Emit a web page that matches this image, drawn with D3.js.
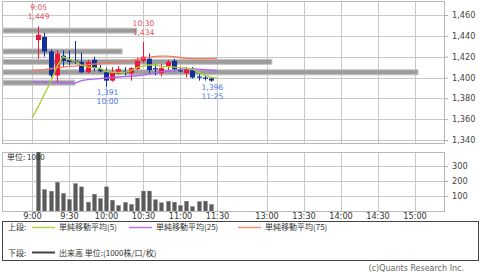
<!DOCTYPE html>
<html><head><meta charset="utf-8">
<script src="https://cdn.jsdelivr.net/npm/d3@7"></script>
<style>body{margin:0;background:#fff} svg{display:block}</style>
</head><body><svg id="c" width="480" height="272"></svg>
<script>
// ---------- data ----------
const candleTimes = ["9:05","9:10","9:15","9:20","9:25","9:30","9:35","9:40","9:45","9:50","9:55",
  "10:00","10:05","10:10","10:15","10:20","10:25","10:30","10:35","10:40","10:45","10:50","10:55",
  "11:00","11:05","11:10","11:15","11:20","11:25"];
const openP  = [1436,1439,1425,1402,1421,1417,1416,1415,1405,1417,1408,1405,1397,1404,1406,1404,1408,1416,1418,1409,1404,1411,1416,1407,1404,1407,1401,1400,1399];
const highP  = [1449,1443,1427,1426,1426,1426,1435,1424,1417,1420,1412,1409,1410,1411,1410,1410,1419,1434,1423,1413,1413,1417,1418,1410,1410,1410,1403,1402,1400];
const lowP   = [1418,1420,1400,1395,1410,1412,1413,1404,1404,1406,1405,1391,1396,1403,1402,1397,1407,1414,1404,1402,1401,1407,1406,1405,1400,1399,1397,1397,1396];
const closeP = [1441,1425,1402,1423,1416,1415,1415,1405,1415,1409,1406,1397,1405,1408,1405,1409,1416,1420,1407,1408,1409,1415,1408,1406,1408,1400,1400,1400,1397];
const volume = [410,143,132,192,117,77,183,161,59,112,83,161,72,37,57,44,86,133,133,75,55,65,59,37,65,30,63,66,44];

const maTimes = ["9:00","9:05","9:10","9:15","9:20","9:25","9:30","9:35","9:40","9:45","9:50","9:55",
  "10:00","10:05","10:10","10:15","10:20","10:25","10:30","10:35","10:40","10:45","10:50","10:55",
  "11:00","11:05","11:10","11:15","11:20","11:25","11:30"];
const ma5  = [1361,1372,1384,1395.5,1410,1420,1417.5,1415.6,1412,1410,1409.4,1409,1406,1405,1405,1405,1406.5,1409.4,1411,1412,1412,1410.4,1410.4,1410,1409.4,1409,1408,1405,1402,1400.3,1399.3];
const ma25 = [1396,1395.8,1395.6,1395.4,1395.2,1395,1394.8,1394.6,1397,1398,1398.4,1399,1399.5,1400,1400.5,1400.8,1401.2,1401.7,1402.2,1403.2,1404.6,1405.6,1406,1406.5,1408,1408.4,1408.4,1408,1407.5,1407,1406.5];
const ma75 = [1407,1407,1407.5,1408.4,1409.4,1410,1410.6,1411,1411.6,1412.2,1412.8,1413.2,1413.7,1414.2,1414.7,1415.5,1416.3,1417.3,1418.5,1419.5,1420.2,1420.5,1420.5,1420,1419.2,1418.5,1418.2,1418.2,1418.2,1418.2,1418.2];

const bandPrices = [1445,1425,1415,1405,1395];
const bandVolume = [397,353,797,1230,213];

const xTickLabels = ["9:00","9:30","10:00","10:30","11:00","11:30","13:00","13:30","14:00","14:30","15:00"];
const priceTicks = [1340,1360,1380,1400,1420,1440,1460];
const volTicks = [100,200,300];

const highMarks = [{t:"10:30", p:1434},{t:"9:05", p:1449}];
const lowMarks  = [{t:"10:00", p:1391},{t:"11:25", p:1396}];

// ---------- scales ----------
const toMin = t => { const [h,m] = t.split(":").map(Number); return h*60+m; };
const fmtN = d3.format(",");
const x = d3.scaleLinear().domain([540,690,780,900]).range([32,217,266.5,414.5]);
const y = d3.scaleLinear().domain([1340,1460]).range([140,15]);
const yv = d3.scaleLinear().domain([0,300]).range([211,166]);
const xb = d3.scaleLinear().domain([0,1230]).range([3,418]);

const P = {l:2, r:444, t:1, b:143};
const V = {t:152, b:211};
const FONT = "DejaVu Sans, sans-serif";
const CJK = "Noto Sans CJK JP, sans-serif";
const GRID = "#c8c8c8";
const UP = "#f0163a", DOWN = "#13309a";

const svg = d3.select("#c");
svg.append("rect").attr("width",480).attr("height",272).attr("fill","#fff");

const defs = svg.append("defs");
defs.append("clipPath").attr("id","cp").append("rect").attr("x",P.l).attr("y",P.t).attr("width",P.r-P.l).attr("height",P.b-P.t);
defs.append("clipPath").attr("id","cv").append("rect").attr("x",P.l).attr("y",V.t).attr("width",P.r-P.l).attr("height",V.b-V.t);

// ---------- upper panel grid ----------
const up = svg.append("g");
up.selectAll("line.h").data(priceTicks).join("line")
  .attr("x1",P.l).attr("x2",P.r).attr("y1",d=>Math.round(y(d))+0.5).attr("y2",d=>Math.round(y(d))+0.5)
  .attr("stroke",GRID);
up.selectAll("line.v").data(xTickLabels).join("line")
  .attr("x1",d=>Math.round(x(toMin(d)))+0.5).attr("x2",d=>Math.round(x(toMin(d)))+0.5)
  .attr("y1",P.t).attr("y2",P.b).attr("stroke",GRID);
up.append("rect").attr("x",P.l+0.5).attr("y",P.t+0.5).attr("width",P.r-P.l).attr("height",P.b-P.t)
  .attr("fill","none").attr("stroke","#b8b8b8");

// price-band volume bars
const pb = svg.append("g").attr("clip-path","url(#cp)");
pb.selectAll("rect").data(bandPrices).join("rect")
  .attr("x",xb(0)).attr("width",(d,i)=>xb(bandVolume[i])-xb(0))
  .attr("y",d=>y(d+2.4)).attr("height",d=>y(d-2.4)-y(d+2.4))
  .attr("fill","#9c9c9c").attr("stroke","#c4c4c4").attr("stroke-width",1);

// candles
const cg = svg.append("g").attr("clip-path","url(#cp)");
const idx = d3.range(candleTimes.length);
const col = i => closeP[i] > openP[i] ? UP : DOWN;
cg.selectAll("line").data(idx).join("line")
  .attr("x1",i=>Math.round(x(toMin(candleTimes[i])))+0.5).attr("x2",i=>Math.round(x(toMin(candleTimes[i])))+0.5)
  .attr("y1",i=>y(highP[i])).attr("y2",i=>y(lowP[i])).attr("stroke",col).attr("stroke-width",1);
cg.selectAll("rect").data(idx).join("rect")
  .attr("x",i=>Math.round(x(toMin(candleTimes[i])))-2).attr("width",5)
  .attr("y",i=>y(Math.max(openP[i],closeP[i])))
  .attr("height",i=>Math.max(1.2, y(Math.min(openP[i],closeP[i]))-y(Math.max(openP[i],closeP[i]))))
  .attr("fill",col);

// moving averages
const lineGen = arr => d3.line().x((d,i)=>x(toMin(maTimes[i]))).y(d=>y(d))(arr);
const mg = svg.append("g").attr("clip-path","url(#cp)").attr("fill","none").attr("stroke-width",1.3);
mg.append("path").attr("d",lineGen(ma75)).attr("stroke","#f37a5a");
mg.append("path").attr("d",lineGen(ma25)).attr("stroke","#b25ff2");
mg.append("path").attr("d",lineGen(ma5)).attr("stroke","#a6d02c");

// annotations
const ann = svg.append("g").attr("font-family",FONT).attr("font-size",7.6).attr("text-anchor","middle");
highMarks.forEach(m=>{
  const cx = x(toMin(m.t))+0.5, cy = y(m.p);
  ann.append("text").attr("x",cx).attr("y",cy-16.5).attr("fill","#e0505e").text(m.t);
  ann.append("text").attr("x",cx).attr("y",cy-7.5).attr("fill","#e0505e").text(fmtN(m.p));
});
lowMarks.forEach(m=>{
  const cx = x(toMin(m.t))+1.5, cy = y(m.p);
  ann.append("text").attr("x",cx).attr("y",cy+8.5).attr("fill","#4a78e6").text(fmtN(m.p));
  ann.append("text").attr("x",cx).attr("y",cy+17.5).attr("fill","#4a78e6").text(m.t);
});

// price axis
const ya = svg.append("g").attr("transform",`translate(${P.r},0)`)
  .call(d3.axisRight(y).tickValues(priceTicks).tickFormat(fmtN).tickSize(4).tickPadding(4));
ya.select(".domain").remove();
ya.selectAll("line").attr("stroke","#aaa");
ya.selectAll("text").attr("font-family",FONT).attr("font-size",8.2).attr("fill","#444");

// ---------- lower panel ----------
const lo = svg.append("g");
lo.selectAll("line.h").data(volTicks).join("line")
  .attr("x1",P.l).attr("x2",P.r).attr("y1",d=>Math.round(yv(d))+0.5).attr("y2",d=>Math.round(yv(d))+0.5).attr("stroke",GRID);
lo.selectAll("line.v").data(xTickLabels).join("line")
  .attr("x1",d=>Math.round(x(toMin(d)))+0.5).attr("x2",d=>Math.round(x(toMin(d)))+0.5)
  .attr("y1",V.t).attr("y2",V.b).attr("stroke",GRID);
lo.append("rect").attr("x",P.l+0.5).attr("y",V.t+0.5).attr("width",P.r-P.l).attr("height",V.b-V.t)
  .attr("fill","none").attr("stroke","#b8b8b8");

const vg = svg.append("g").attr("clip-path","url(#cv)");
vg.selectAll("rect").data(idx).join("rect")
  .attr("x",i=>Math.round(x(toMin(candleTimes[i])))-1.5).attr("width",4)
  .attr("y",i=>yv(volume[i])).attr("height",i=>yv(0)-yv(volume[i]))
  .attr("fill","#5a5a5a").attr("stroke","#888").attr("stroke-width",0.4);

svg.append("text").attr("x",7).attr("y",159.5).attr("font-family",CJK).attr("font-size",8)
  .attr("fill","#333").text("単位: 1000");

const va = svg.append("g").attr("transform",`translate(${P.r},0)`)
  .call(d3.axisRight(yv).tickValues(volTicks).tickSize(4).tickPadding(4));
va.select(".domain").remove();
va.selectAll("line").attr("stroke","#aaa");
va.selectAll("text").attr("font-family",FONT).attr("font-size",8.2).attr("fill","#444");

// x axis
const xa = svg.append("g").attr("transform",`translate(0,${V.b})`)
  .call(d3.axisBottom(x).tickValues(xTickLabels.map(toMin)).tickFormat((d,i)=>xTickLabels[i]).tickSize(0).tickPadding(2.5));
xa.select(".domain").remove();
xa.selectAll("text").attr("font-family",FONT).attr("font-size",8.2).attr("fill","#333");

// ---------- legend ----------
const lg = svg.append("g").attr("font-family",CJK).attr("font-size",8).attr("fill","#333");
lg.append("rect").attr("x",2.5).attr("y",221.5).attr("width",476).attr("height",39)
  .attr("fill","none").attr("stroke","#444");
const legItems = [
  {x:32, color:"#b2d64a", label:"単純移動平均(5)", w:1.5},
  {x:129, color:"#c070f0", label:"単純移動平均(25)", w:1.5},
  {x:238, color:"#f4907a", label:"単純移動平均(75)", w:1.5}
];
lg.append("text").attr("x",8).attr("y",230).text("上段:");
legItems.forEach(it=>{
  lg.append("line").attr("x1",it.x).attr("x2",it.x+23).attr("y1",227.5).attr("y2",227.5).attr("stroke",it.color).attr("stroke-width",it.w);
  lg.append("text").attr("x",it.x+27).attr("y",230).text(it.label);
});
lg.append("text").attr("x",8).attr("y",255.5).text("下段:");
lg.append("line").attr("x1",32).attr("x2",55).attr("y1",252.5).attr("y2",252.5).attr("stroke","#444").attr("stroke-width",2);
lg.append("text").attr("x",59).attr("y",255.5).text("出来高 単位:(1000株/口/枚)");

svg.append("text").attr("x",464).attr("y",271).attr("text-anchor","end").attr("font-family",FONT)
  .attr("font-size",8).attr("fill","#666").text("(c)Quants Research Inc.");
</script></body></html>
